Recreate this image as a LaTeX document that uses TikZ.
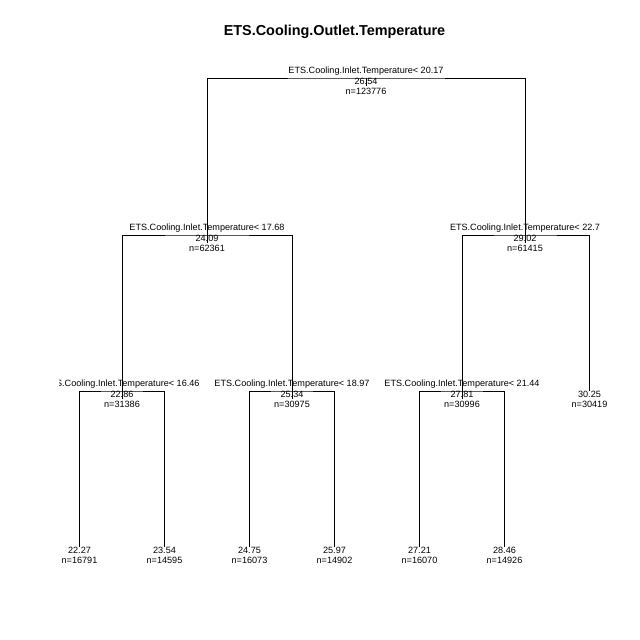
\documentclass[tikz,border=0pt]{standalone}
\usepackage{fontspec}
\setmainfont{Liberation Sans}
\newcommand{\varsplit}{ETS.Cooling.Inlet.Temperature<~}
\begin{document}
\begin{tikzpicture}[x=1pt,y=-1pt,line width=0.6pt,
    every node/.style={inner sep=0pt,font=\fontsize{9.1}{10}\selectfont},
    lab/.style={anchor=base}]%{{{
\useasboundingbox (0,0) rectangle (640,640);
%
% Titre
\node [lab,font=\fontsize{14.4}{16}\selectfont\bfseries] (titre) at (334.5,35)
      {ETS.Cooling.Outlet.Temperature};
%
\begin{scope}
\clip (59,59) rectangle (610,567);
%
% Noeuds internes (h = branche horizontale, n = bas de la branche)
\foreach \nom/\x/\y/\seuil/\val/\n in {
      r/366/78/20.17/26.54/123776,
      a/207/235/17.68/24.09/62361,
      b/525/235/22.7/29.02/61415,
      c/122/391/16.46/22.86/31386,
      d/292/391/18.97/25.34/30975,
      e/462/391/21.44/27.81/30996}{
  \coordinate (\nom h) at (\x,\y);
  \coordinate (\nom) at ([yshift=-8pt]\nom h);
  \node [lab] (\nom s) at ([yshift=5pt]\nom h) {\varsplit\seuil};
  \node [lab] (\nom v) at ([yshift=-6pt]\nom h) {\val};
  \node [lab] (\nom n) at ([yshift=-16pt]\nom h) {n=\n};
}
%
% Feuilles
\foreach \nom/\x/\y/\val/\n in {
      f1/79.5/547/22.27/16791,
      f2/164.5/547/23.54/14595,
      f3/249.5/547/24.75/16073,
      f4/334.5/547/25.97/14902,
      f5/419.5/547/27.21/16070,
      f6/504.5/547/28.46/14926,
      f7/589.5/391/30.25/30419}{
  \coordinate (\nom) at (\x,\y);
  \node [lab] (\nom v) at ([yshift=-6pt]\nom) {\val};
  \node [lab] (\nom n) at ([yshift=-16pt]\nom) {n=\n};
}
%
% Branches
\draw (rh) -- (r);
\draw (a)  |- (rh) -| (b);
\draw (c)  |- (ah) -| (d);
\draw (e)  |- (bh) -| (f7);
\draw (f1) |- (ch) -| (f2);
\draw (f3) |- (dh) -| (f4);
\draw (f5) |- (eh) -| (f6);
\end{scope}
%
\end{tikzpicture}
\end{document}
